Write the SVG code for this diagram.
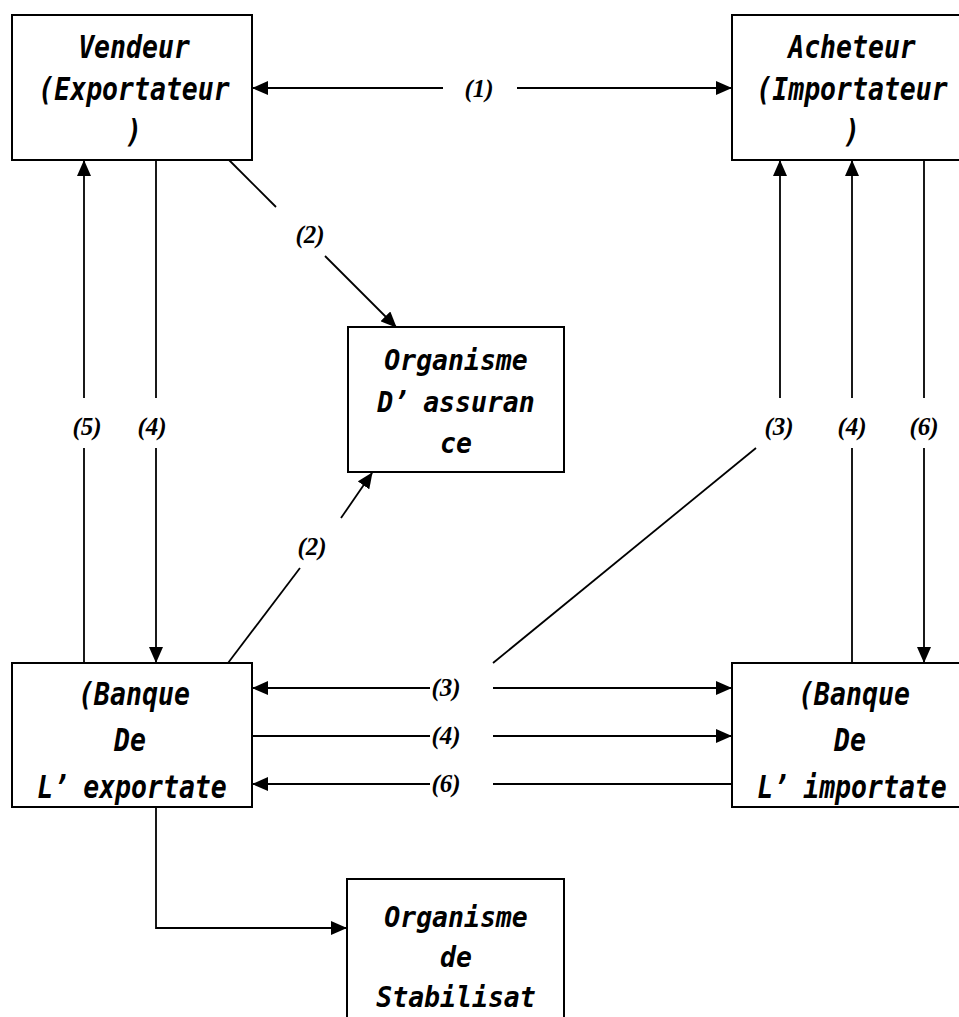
<svg xmlns="http://www.w3.org/2000/svg" width="959" height="1017" viewBox="0 0 959 1017">
<style>
.box{fill:#fff;stroke:#000;stroke-width:2}
.t{font-family:"DejaVu Sans Mono","Liberation Mono",monospace;font-style:italic;font-weight:bold;font-size:26.5px;text-anchor:middle;fill:#000}
.lbl{font-family:"Liberation Serif","Times New Roman",serif;font-style:italic;font-weight:bold;font-size:25px;text-anchor:middle;fill:#000}
.c{stroke:#000;stroke-width:1.8;fill:none}
.a{marker-end:url(#arr)}
</style>
<defs>
<marker id="arr" markerUnits="userSpaceOnUse" markerWidth="16" markerHeight="14" refX="15" refY="7" orient="auto">
<path d="M0,0 L16,7 L0,14 z" fill="#000"/>
</marker>
</defs>
<rect width="959" height="1017" fill="#fff"/>

<g id="vendeur">
<rect class="box" x="12" y="15" width="240" height="145"/>
<text class="t" transform="translate(134,58) scale(1,1.2)">Vendeur</text>
<text class="t" transform="translate(134,100) scale(1,1.2)">(Exportateur</text>
<text class="t" transform="translate(134,142) scale(1,1.2)">)</text>
</g>

<g id="acheteur">
<rect class="box" x="732" y="15" width="240" height="145"/>
<text class="t" transform="translate(852,58) scale(1,1.2)">Acheteur</text>
<text class="t" transform="translate(852,100) scale(1,1.2)">(Importateur</text>
<text class="t" transform="translate(852,142) scale(1,1.2)">)</text>
</g>

<g id="assurance">
<rect class="box" x="348" y="327" width="216" height="145"/>
<text class="t" transform="translate(456,370) scale(1,1.1)">Organisme</text>
<text class="t" transform="translate(456,412) scale(1,1.1)">D’<tspan dx="14">assuran</tspan></text>
<text class="t" transform="translate(456,453) scale(1,1.1)">ce</text>
</g>

<g id="banque-exportateur">
<rect class="box" x="12" y="663" width="240" height="144"/>
<text class="t" transform="translate(134,705) scale(1,1.2)">(Banque</text>
<text class="t" transform="translate(130,751) scale(1,1.2)">De</text>
<text class="t" transform="translate(132,798) scale(1,1.2)">L’<tspan dx="14">exportate</tspan></text>
</g>

<g id="banque-importateur">
<rect class="box" x="732" y="663" width="240" height="144"/>
<text class="t" transform="translate(854,705) scale(1,1.2)">(Banque</text>
<text class="t" transform="translate(850,751) scale(1,1.2)">De</text>
<text class="t" transform="translate(852,798) scale(1,1.2)">L’<tspan dx="14">importate</tspan></text>
</g>

<g id="stabilisation">
<rect class="box" x="347" y="879" width="217" height="160"/>
<text class="t" transform="translate(456,927) scale(1,1.1)">Organisme</text>
<text class="t" transform="translate(456,967) scale(1,1.1)">de</text>
<text class="t" transform="translate(456,1007) scale(1,1.1)">Stabilisat</text>
</g>

<g id="connectors">
<line class="c a" x1="443" y1="88" x2="253" y2="88"/>
<line class="c a" x1="517" y1="88" x2="731" y2="88"/>
<line class="c" x1="229" y1="160" x2="276" y2="207"/>
<line class="c a" x1="325" y1="256" x2="396" y2="327"/>
<line class="c" x1="228" y1="663" x2="300" y2="568"/>
<line class="c a" x1="341" y1="518" x2="372" y2="473"/>
<line class="c" x1="84" y1="663" x2="84" y2="448"/>
<line class="c a" x1="84" y1="398" x2="84" y2="161"/>
<line class="c" x1="156" y1="160" x2="156" y2="398"/>
<line class="c a" x1="156" y1="448" x2="156" y2="662"/>
<line class="c" x1="493" y1="663" x2="756" y2="448"/>
<line class="c a" x1="780" y1="398" x2="780" y2="161"/>
<line class="c" x1="852" y1="663" x2="852" y2="448"/>
<line class="c a" x1="852" y1="398" x2="852" y2="161"/>
<line class="c" x1="924" y1="160" x2="924" y2="398"/>
<line class="c a" x1="924" y1="448" x2="924" y2="662"/>
<line class="c a" x1="430" y1="688" x2="253" y2="688"/>
<line class="c a" x1="493" y1="688" x2="731" y2="688"/>
<line class="c" x1="252" y1="736" x2="430" y2="736"/>
<line class="c a" x1="493" y1="736" x2="731" y2="736"/>
<line class="c" x1="732" y1="784" x2="493" y2="784"/>
<line class="c a" x1="430" y1="784" x2="253" y2="784"/>
<polyline class="c a" points="156,807 156,928 346,928"/>

<text class="lbl" x="479" y="97">(1)</text>
<text class="lbl" x="310" y="243">(2)</text>
<text class="lbl" x="312" y="555">(2)</text>
<text class="lbl" x="87" y="435">(5)</text>
<text class="lbl" x="152" y="435">(4)</text>
<text class="lbl" x="779" y="435">(3)</text>
<text class="lbl" x="852" y="435">(4)</text>
<text class="lbl" x="924" y="435">(6)</text>
<text class="lbl" x="446" y="696">(3)</text>
<text class="lbl" x="446" y="744">(4)</text>
<text class="lbl" x="446" y="792">(6)</text>
</g>
</svg>
